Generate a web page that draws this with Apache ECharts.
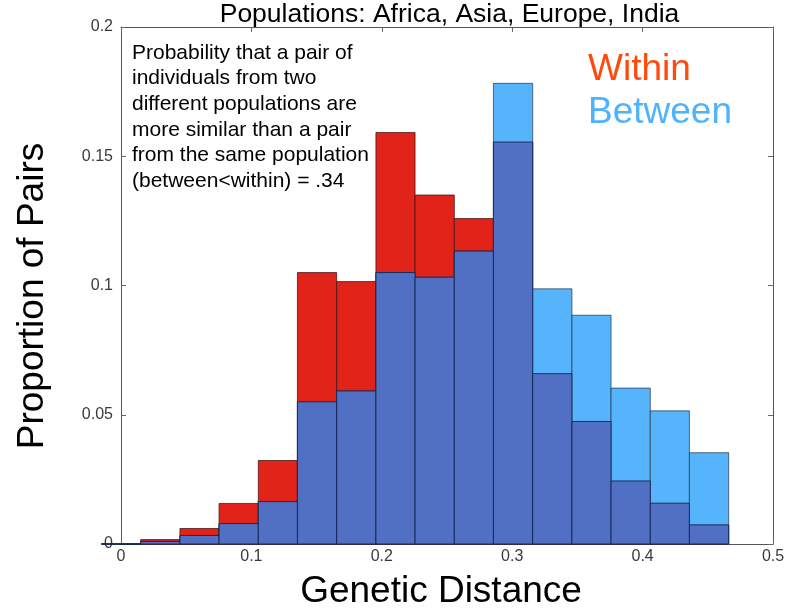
<!DOCTYPE html>
<html>
<head>
<meta charset="utf-8">
<script src="https://cdn.jsdelivr.net/npm/echarts@6/dist/echarts.min.js"></script>
<style>
html,body{margin:0;padding:0;background:#fff;}
#chart{width:788px;height:610px;}
</style>
</head>
<body>
<div id="chart"></div>
<script>
// Histogram bin edges (Genetic Distance)
const binEdges = [-0.0150, 0.0151, 0.0452, 0.0752, 0.1053, 0.1353, 0.1654, 0.1955, 0.2255, 0.2556, 0.2856, 0.3157, 0.3458, 0.3758, 0.4059, 0.4359, 0.4660];
// Proportion of pairs per bin
const withinValues  = [0, 0.0017, 0.0060, 0.0157, 0.0323, 0.1050, 0.1015, 0.1592, 0.1350, 0.1259, 0.1555, 0.0659, 0.0474, 0.0244, 0.0158, 0.0074];
const betweenValues = [0, 0.0010, 0.0033, 0.0079, 0.0164, 0.0550, 0.0592, 0.1050, 0.1032, 0.1133, 0.1782, 0.0987, 0.0885, 0.0603, 0.0515, 0.0353];
const xTicks = [0, 0.1, 0.2, 0.3, 0.4, 0.5];
const yTicks = [0, 0.05, 0.1, 0.15, 0.2];

const titleText = 'Populations: Africa, Asia, Europe, India';
const xAxisTitle = 'Genetic Distance';
const yAxisTitle = 'Proportion of Pairs';
const legendNames = ['Within', 'Between'];
const noteLines = [
  'Probability that a pair of',
  'individuals from two',
  'different populations are',
  'more similar than a pair',
  'from the same population',
  '(between<within) = .34'
];

const FONT = '"Liberation Sans", Arial, Helvetica, sans-serif';

function toData(vals){
  return vals.map((v,i)=>[binEdges[i], binEdges[i+1], v]);
}
const overlapValues = withinValues.map((w,i)=>Math.min(w, betweenValues[i]));

function makeRender(fill, stroke){
  return function(params, api){
    const x0 = api.value(0), x1 = api.value(1), v = api.value(2);
    const pTop = api.coord([x0, v]);
    const pBot = api.coord([x1, 0]);
    return {
      type: 'rect',
      shape: {x: pTop[0], y: pTop[1], width: pBot[0]-pTop[0], height: pBot[1]-pTop[1]},
      style: {fill: fill, stroke: stroke, lineWidth: 1}
    };
  };
}

const chart = echarts.init(document.getElementById('chart'), null, {renderer:'canvas'});

const axisCommon = {
  type: 'value',
  axisLine: {show: true, onZero: false, lineStyle: {color: '#555', width: 1}},
  axisTick: {show: true, inside: true, length: 5, lineStyle: {color: '#666'}},
  splitLine: {show: false}
};

chart.setOption({
  animation: false,
  backgroundColor: '#fff',
  grid: {left: 121, right: 15, top: 27, bottom: 66, containLabel: false},
  xAxis: [
    Object.assign({}, axisCommon, {
      min: xTicks[0], max: xTicks[xTicks.length-1], interval: 0.1,
      position: 'bottom',
      axisLabel: {show: true, color: '#3a3a3a', fontSize: 16, fontFamily: FONT, margin: 5}
    }),
    Object.assign({}, axisCommon, {
      min: xTicks[0], max: xTicks[xTicks.length-1], interval: 0.1,
      position: 'top', axisLabel: {show: false}
    })
  ],
  yAxis: [
    Object.assign({}, axisCommon, {
      min: yTicks[0], max: yTicks[yTicks.length-1], interval: 0.05,
      position: 'left',
      axisLabel: {show: true, color: '#3a3a3a', fontSize: 16, fontFamily: FONT, margin: 8}
    }),
    Object.assign({}, axisCommon, {
      min: yTicks[0], max: yTicks[yTicks.length-1], interval: 0.05,
      position: 'right', axisLabel: {show: false}
    })
  ],
  series: [
    {name: legendNames[0], type: 'custom', clip: false, xAxisIndex: 0, yAxisIndex: 0,
     encode: {x: [0,1], y: 2}, renderItem: makeRender('#E2231A', 'rgba(60,20,20,0.75)'),
     data: toData(withinValues), z: 2},
    {name: legendNames[1], type: 'custom', clip: false, xAxisIndex: 0, yAxisIndex: 0,
     encode: {x: [0,1], y: 2}, renderItem: makeRender('#56B4FC', 'rgba(40,50,70,0.7)'),
     data: toData(betweenValues), z: 3},
    {name: 'Overlap', type: 'custom', clip: false, xAxisIndex: 0, yAxisIndex: 0,
     encode: {x: [0,1], y: 2}, renderItem: makeRender('#5170C4', 'rgba(15,35,75,0.85)'),
     data: toData(overlapValues), z: 4}
  ],
  graphic: [
    {type: 'text', x: 449.5, y: 15, z: 10,
     style: {text: titleText, font: '26.5px ' + FONT, fill: '#000', align: 'center', verticalAlign: 'middle'}},
    {type: 'text', x: 441, y: 591.5, z: 10,
     style: {text: xAxisTitle, font: '37px ' + FONT, fill: '#000', align: 'center', verticalAlign: 'middle'}},
    {type: 'text', x: 33, y: 296, rotation: Math.PI/2, z: 10,
     style: {text: yAxisTitle, font: '37px ' + FONT, fill: '#000', align: 'center', verticalAlign: 'middle'}},
    {type: 'text', x: 132, y: 40, z: 10,
     style: {text: noteLines.join('\n'), font: '21px ' + FONT, lineHeight: 25.7, fill: '#000', align: 'left', verticalAlign: 'top'}},
    {type: 'text', x: 588, y: 69.4, z: 10,
     style: {text: legendNames[0], font: '37px ' + FONT, fill: '#FF4A0D', align: 'left', verticalAlign: 'middle',
             shadowColor: 'rgba(0,0,0,0.25)', shadowBlur: 2, shadowOffsetX: 1, shadowOffsetY: 1}},
    {type: 'text', x: 588, y: 112.4, z: 10,
     style: {text: legendNames[1], font: '37px ' + FONT, fill: '#4DB3FF', align: 'left', verticalAlign: 'middle',
             shadowColor: 'rgba(0,0,0,0.25)', shadowBlur: 2, shadowOffsetX: 1, shadowOffsetY: 1}}
  ]
});
</script>
</body>
</html>
